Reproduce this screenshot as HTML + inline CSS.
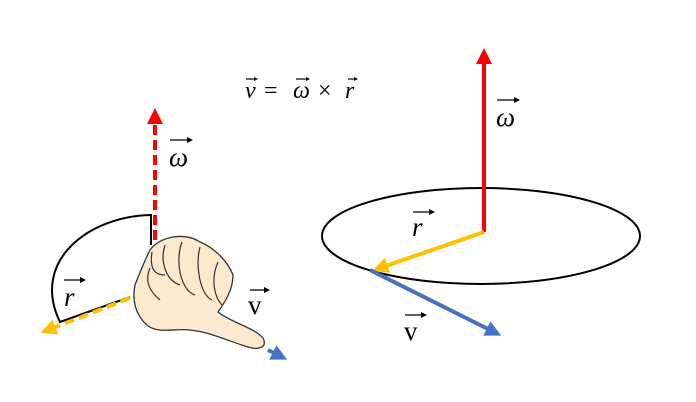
<!DOCTYPE html>
<html><head><style>body{margin:0;background:#fff}svg{display:block}</style></head><body>
<svg width="696" height="402" viewBox="0 0 696 402" xmlns="http://www.w3.org/2000/svg">
<defs>
<marker id="ar" markerWidth="4" markerHeight="4" refX="2" refY="2" orient="auto" markerUnits="strokeWidth"><path d="M0,0L4,2L0,4z" fill="#f00"/></marker>
<marker id="ay" markerWidth="4" markerHeight="4" refX="2" refY="2" orient="auto" markerUnits="strokeWidth"><path d="M0,0L4,2L0,4z" fill="#ffc000"/></marker>
<marker id="ab" markerWidth="4" markerHeight="4" refX="2" refY="2" orient="auto" markerUnits="strokeWidth"><path d="M0,0L4,2L0,4z" fill="#4472c4"/></marker>
<marker id="ak" markerWidth="6" markerHeight="6" refX="1" refY="3" orient="auto" markerUnits="userSpaceOnUse"><path d="M0,0L6,3L0,6z" fill="#000"/></marker>
<marker id="ak2" markerWidth="4" markerHeight="4" refX="1" refY="2" orient="auto" markerUnits="userSpaceOnUse"><path d="M0,0L4,2L0,4z" fill="#000"/></marker>
</defs>
<ellipse cx="481" cy="236" rx="159" ry="48" fill="none" stroke="#000" stroke-width="2"/>
<line x1="484" y1="232" x2="484" y2="56" stroke="#f00" stroke-width="4" marker-end="url(#ar)"/>
<line x1="484" y1="232" x2="380" y2="268" stroke="#ffc000" stroke-width="4" marker-end="url(#ay)"/>
<line x1="370" y1="270" x2="494" y2="332" stroke="#4472c4" stroke-width="4" marker-end="url(#ab)"/>
<path d="M151,245 L151,215 C90,216 30,260 60,322 L130,297" fill="none" stroke="#000" stroke-width="2"/>
<line x1="155" y1="240" x2="155" y2="116" stroke="#f00" stroke-width="4" stroke-dasharray="10,5" marker-end="url(#ar)"/>
<line x1="130" y1="298" x2="48" y2="330" stroke="#ffc000" stroke-width="4" stroke-dasharray="10,5" marker-end="url(#ay)"/>
<line x1="268" y1="350" x2="280" y2="356" stroke="#4472c4" stroke-width="4" marker-end="url(#ab)"/>
<path d="M150,250 C160,236 185,232 200,242 C215,248 228,262 233,275 C233,292 222,306 218,312 C230,322 255,328 263,338 C268,348 258,350 248,347 C225,340 210,332 190,330 C175,328 160,334 148,326 C135,315 132,300 135,285 C140,272 144,262 150,250 Z" fill="#fde9cf" stroke="#333" stroke-width="1.3"/>
<path d="M152,252 C150,265 152,275 165,275 M165,245 C160,260 165,280 180,285 M182,242 C175,260 180,290 195,295 M200,247 C195,265 200,295 212,300 M218,262 C210,280 215,298 222,305 M150,268 C145,280 148,290 160,300" fill="none" stroke="#333" stroke-width="1.2"/>
<g font-family="'Liberation Serif', 'DejaVu Serif', serif" font-size="27" fill="#000">
<text x="245" y="98" font-style="italic" font-size="24">v</text>
<text x="264" y="98" font-size="24">=</text>
<text x="293" y="98" font-style="italic" font-size="24">ω</text>
<text x="318" y="98" font-size="24">×</text>
<text x="345" y="98" font-style="italic" font-size="24">r</text>
<text x="169" y="166" font-style="italic">ω</text>
<text x="64" y="306" font-style="italic">r</text>
<text x="248" y="314">v</text>
<text x="496" y="126" font-style="italic">ω</text>
<text x="412" y="236" font-style="italic">r</text>
<text x="404" y="340">v</text>
</g>
<g stroke="#000" stroke-width="1.2" marker-end="url(#ak2)">
<line x1="246" y1="79" x2="255" y2="79"/>
<line x1="296" y1="79" x2="307" y2="79"/>
<line x1="348" y1="79" x2="355" y2="79"/>
</g>
<g stroke="#000" stroke-width="1.3" marker-end="url(#ak)">
<line x1="170" y1="140" x2="188" y2="140"/>
<line x1="64" y1="280" x2="81" y2="280"/>
<line x1="250" y1="290" x2="265" y2="290"/>
<line x1="497" y1="100" x2="515" y2="100"/>
<line x1="413" y1="212" x2="430" y2="212"/>
<line x1="405" y1="315" x2="422" y2="315"/>
</g>
</svg>
</body></html>
